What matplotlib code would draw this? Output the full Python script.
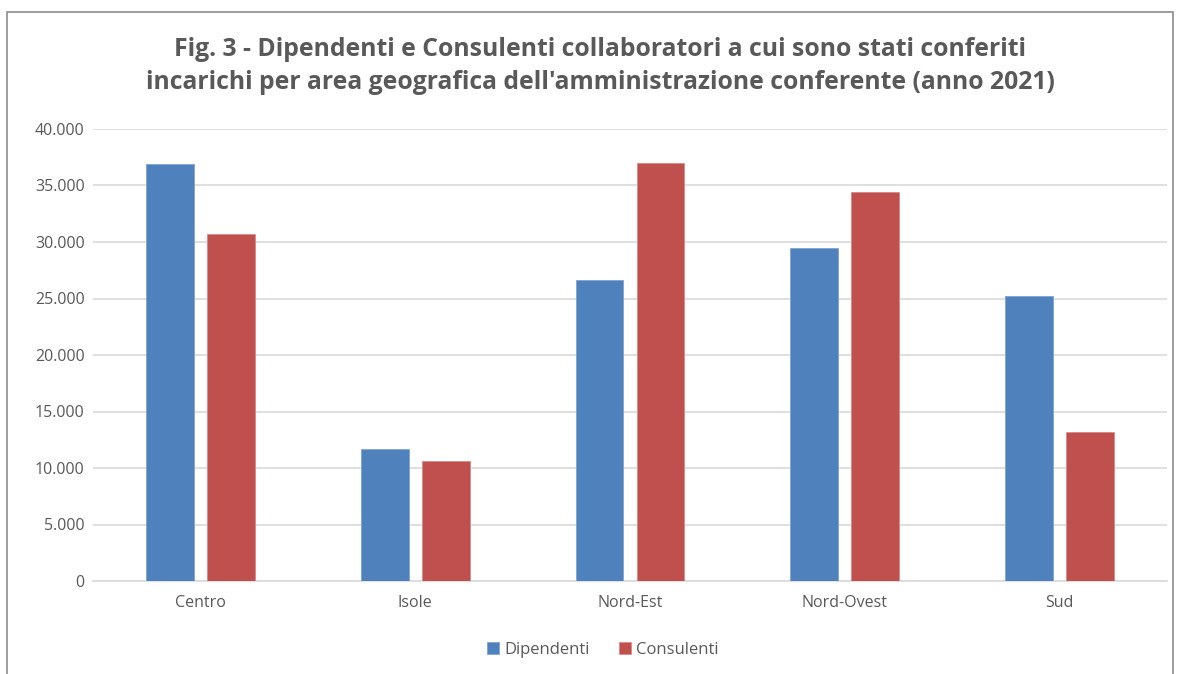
import numpy as np
import matplotlib.pyplot as plt
import matplotlib.patches as patches

# data
areas = ["Centro", "Isole", "Nord-Est", "Nord-Ovest", "Sud"]
dipendenti = [36900, 11700, 26600, 29500, 25200]
consulenti = [30700, 10600, 37000, 34450, 13200]
yticks = [0, 5000, 10000, 15000, 20000, 25000, 30000, 35000, 40000]

title = ("Fig. 3 - Dipendenti e Consulenti collaboratori a cui sono stati conferiti\n"
         "incarichi per area geografica dell'amministrazione conferente (anno 2021)")

plt.rcParams['font.family'] = ['Open Sans', 'DejaVu Sans']
txt = '#595959'

fig = plt.figure(figsize=(11.79, 6.74), dpi=100)
ax = fig.add_axes([93/1179, 1 - 581/674, (1167 - 93)/1179, (581 - 129)/674])

# chart border
fig.patches.append(patches.Rectangle((7/1179, -0.05), (1173 - 7)/1179, 1.05 - 12/674,
                                     transform=fig.transFigure, fill=False,
                                     edgecolor='#8c8c8c', linewidth=1.2))

x = np.arange(len(areas))
w = 0.223
off = 0.142
ax.bar(x - off, dipendenti, w, color='#4F81BD', edgecolor='#7fa3d3', linewidth=0.6,
       label='Dipendenti', zorder=3)
ax.bar(x + off, consulenti, w, color='#C0504D', edgecolor='#d98a88', linewidth=0.6,
       label='Consulenti', zorder=3)

ax.set_xlim(-0.5, len(areas) - 0.5)
ax.set_ylim(0, 40000)
ax.set_yticks(yticks)
ax.set_yticklabels([f"{v:,}".replace(",", ".") for v in yticks])
ax.set_xticks(x)
ax.set_xticklabels(areas)
ax.tick_params(axis='both', length=0, labelsize=11.5, labelcolor=txt)
ax.tick_params(axis='x', pad=10)
ax.tick_params(axis='y', pad=6)
ax.grid(axis='y', color='#d9d9d9', linewidth=1.2, zorder=0)
for s in ['top', 'right', 'left']:
    ax.spines[s].set_visible(False)
ax.spines['bottom'].set_color('#d9d9d9')
ax.spines['bottom'].set_linewidth(1.2)

fig.text(600/1179, 1 - 66/674, title, ha='center', va='center', fontsize=17.8,
         fontweight='bold', color=txt, linespacing=1.45)

fig.legend(loc='center', bbox_to_anchor=(603/1179, 1 - 650/674), ncol=2, frameon=False,
           fontsize=12, labelcolor=txt, handlelength=0.7, handleheight=0.7,
           handletextpad=0.3, columnspacing=1.8)

fig.savefig('out.png', dpi=100)
